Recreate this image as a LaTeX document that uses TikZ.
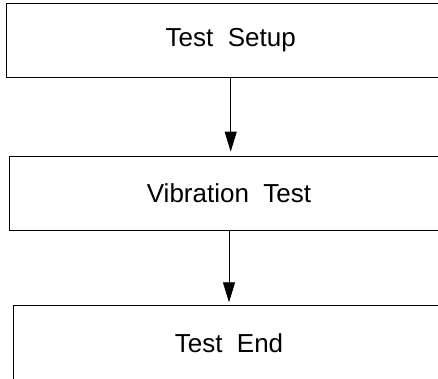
\documentclass[tikz,border=0pt]{standalone}
\usepackage{fontspec}
\setmainfont{Liberation Sans}
\usepackage{tikz}
\usetikzlibrary{positioning,calc,arrows.meta}
\tikzset{stepbox/.style={draw, rectangle, line width=0.8pt, minimum height=74pt, inner sep=0pt, font=\fontsize{26}{30}\selectfont}}
\newcommand{\bnode}[4]{\node [stepbox, minimum width=#3] (#1) at (#2) {#4}}

\begin{document}
\begin{tikzpicture}[x=1pt, y=-1pt]
\useasboundingbox (0,0) rectangle (438,378);
\clip (0,0) rectangle (438,378);

\bnode{SETUP}{230.7,40.5}{448.5pt}{Test\ \ Setup};
\bnode{VIB}{229,193}{440pt}{Vibration\ \ Test};
\bnode{END}{229,342.7}{431pt}{Test\ \ End};

\draw[-{Triangle[length=20pt,width=12pt]}, line width=0.8pt, shorten >=4pt] (SETUP.south) -- (SETUP.south |- VIB.north);
\draw[-{Triangle[length=20pt,width=12pt]}, line width=0.8pt, shorten >=3pt] (VIB.south) -- (END.north);

\end{tikzpicture}
\end{document}
